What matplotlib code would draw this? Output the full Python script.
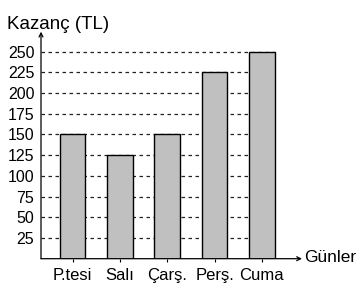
import matplotlib
matplotlib.use('Agg')
import matplotlib.pyplot as plt
import numpy as np

plt.rcParams['font.family'] = ['Liberation Sans', 'DejaVu Sans']

days = ['P.tesi', 'Salı', 'Çarş.', 'Perş.', 'Cuma']
earnings = [150, 125, 150, 225, 250]
yticks = [25, 50, 75, 100, 125, 150, 175, 200, 225, 250]

fig = plt.figure(figsize=(3.62, 2.85), dpi=100)
ax = fig.add_axes([41/362, 1 - 258.7/285, (302 - 41)/362, (258.7 - 31.7)/285])

x = np.arange(len(days))
bar_w = 0.54

# dashed guide lines behind the bars
ax.hlines(yticks, -0.67, x[-1] + bar_w/2, colors='#222222', linewidth=0.9,
          linestyles=(0, (2.8, 2.8)), zorder=1)
ax.bar(x, earnings, width=bar_w, color='#c0c0c0', edgecolor='black',
       linewidth=1.0, zorder=2)

ax.set_xlim(-0.67, 4.85)
ax.set_ylim(0, 274)

for s in ax.spines.values():
    s.set_visible(False)

# axis arrows
ax.annotate('', xy=(1, 0), xytext=(0, 0), xycoords='axes fraction',
            arrowprops=dict(arrowstyle='->', lw=0.9, color='black',
                            shrinkA=0, shrinkB=0, mutation_scale=7))
ax.annotate('', xy=(0, 1), xytext=(0, 0), xycoords='axes fraction',
            arrowprops=dict(arrowstyle='->', lw=0.9, color='black',
                            shrinkA=0, shrinkB=0, mutation_scale=7))

ax.set_xticks(x)
ax.set_xticklabels(days, fontsize=12)
ax.set_yticks(yticks)
ax.set_yticklabels([str(v) for v in yticks], fontsize=11.5)
ax.tick_params(axis='x', length=2.5, width=0.8, pad=4)
ax.tick_params(axis='y', length=0, pad=4.8)

fig.text(7/362, 1 - 29/285, 'Kazanç (TL)', fontsize=13.5, va='baseline', ha='left')
fig.text(304/362, 1 - 257.5/285, 'Günler', fontsize=12.5, va='center', ha='left')

plt.savefig('out.png', dpi=100)
